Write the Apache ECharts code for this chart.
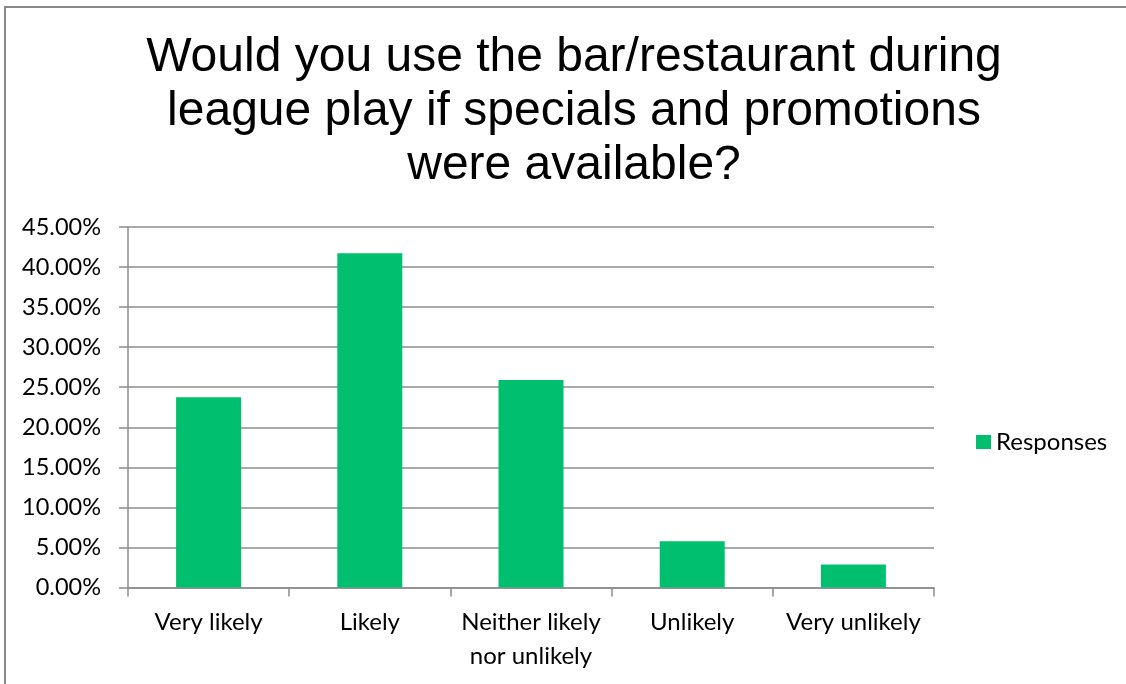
<!DOCTYPE html>
<html>
<head>
<meta charset="utf-8">
<title>League play specials</title>
<script src="https://cdn.jsdelivr.net/npm/echarts@6/dist/echarts.min.js"></script>
<style>
  html, body { margin: 0; padding: 0; background: #fff; }
  #chart { width: 1126px; height: 684px; }
</style>
</head>
<body>
<div id="chart"></div>
<script>
  // survey answers, share of responses in %
  const categories = ['Very likely', 'Likely', 'Neither likely\nnor unlikely', 'Unlikely', 'Very unlikely'];
  const responses = [23.74, 41.73, 25.90, 5.76, 2.88];
  const seriesName = 'Responses';
  const titleText = 'Would you use the bar/restaurant during\nleague play if specials and promotions\nwere available?';

  const grey = '#8c8c8c';
  const labelFont = 'Lato, "Open Sans", sans-serif';
  const labelSize = 23.5;

  let myChart = echarts.init(document.getElementById('chart'));
  myChart.setOption({
    animation: false,
    title: {
      text: titleText,
      left: 569,
      top: 26,
      textAlign: 'center',
      textStyle: {
        fontFamily: '"Liberation Sans", Arial, sans-serif',
        fontWeight: 'normal',
        fontSize: 48,
        lineHeight: 54,
        color: '#000'
      }
    },
    // outer frame of the pasted chart (only top and left edges are visible)
    graphic: [{
      type: 'rect',
      z: -1,
      shape: { x: 5, y: 7, width: 1300, height: 900 },
      style: { fill: 'none', stroke: '#888', lineWidth: 2 }
    }],
    legend: {
      data: [seriesName],
      left: 971,
      top: 425,
      itemWidth: 15,
      itemHeight: 14,
      itemGap: 8,
      icon: 'rect',
      textStyle: { fontFamily: labelFont, fontSize: 24, color: '#000' }
    },
    grid: {
      left: 128,
      right: 192,
      top: 227,
      bottom: 96.5,
      containLabel: false
    },
    xAxis: {
      type: 'category',
      data: categories,
      boundaryGap: true,
      axisLine: { lineStyle: { color: grey, width: 1.5 } },
      axisTick: { show: true, length: 9, alignWithLabel: false, lineStyle: { color: grey, width: 1.5 } },
      axisLabel: {
        interval: 0,
        margin: 18,
        fontFamily: labelFont,
        fontSize: 24,
        lineHeight: 34,
        color: '#000'
      }
    },
    yAxis: {
      type: 'value',
      min: 0,
      max: 45,
      interval: 5,
      axisLine: { show: true, lineStyle: { color: grey, width: 1.5 } },
      axisTick: { show: true, length: 9, lineStyle: { color: grey, width: 1.5 } },
      splitLine: { lineStyle: { color: grey, width: 1.5 } },
      axisLabel: {
        margin: 27,
        fontFamily: labelFont,
        fontSize: labelSize,
        color: '#000',
        formatter: function (v) { return v.toFixed(2) + '%'; }
      }
    },
    series: [{
      name: seriesName,
      type: 'bar',
      data: responses,
      barWidth: 65,
      itemStyle: { color: '#00bf6f' }
    }]
  });
</script>
</body>
</html>
